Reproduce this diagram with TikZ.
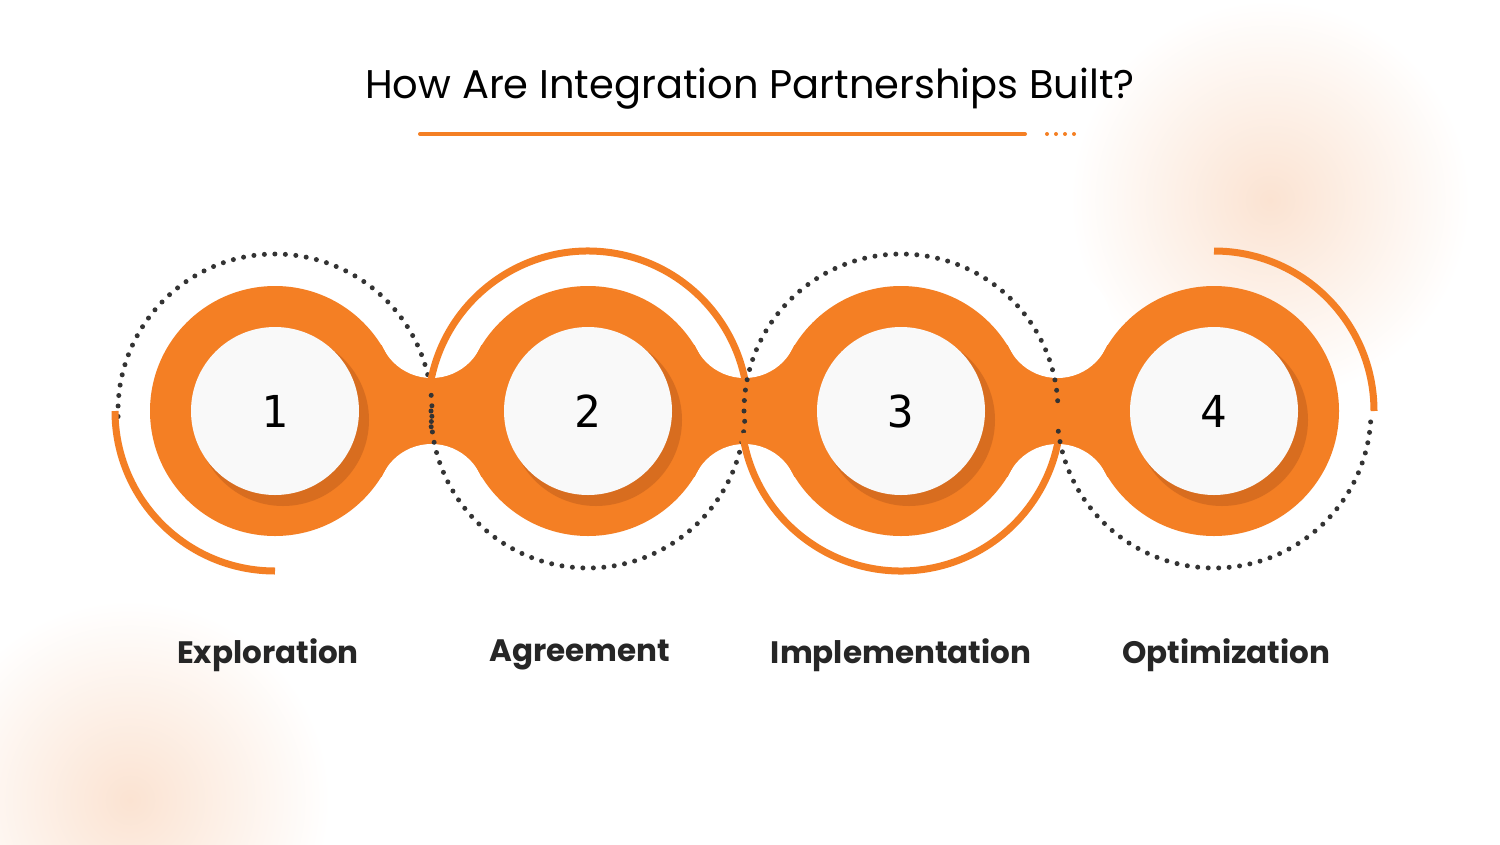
\documentclass[tikz,border=0pt]{standalone}
\usepackage{fontspec}
\setmainfont{Poppins}
\newfontfamily\monof{DejaVu Sans Mono}
\definecolor{org}{HTML}{F47F24}
\definecolor{dorg}{HTML}{B8581A}
\definecolor{peach}{HTML}{FBE3D2}
\tikzset{
  solidarc/.style={draw=org,line width=7pt},
  dotarc/.style={draw=black!80,line width=5pt,dash pattern=on 0pt off 10.5pt,line cap=round},
  numtxt/.style={font=\monof\fontsize{44}{44}\selectfont},
  lbl/.style={font=\fontsize{31}{31}\selectfont\bfseries,text=black!85},
}
\begin{document}
\begin{tikzpicture}[x=1pt,y=-1pt]
\useasboundingbox (0,0) rectangle (1500,844);
\fill[white] (0,0) rectangle (1500,844);
\begin{scope}
\clip (0,0) rectangle (1500,844);
\shade[inner color=peach,outer color=white] (1270,200) circle (200);
\shade[inner color=peach,outer color=white] (130,800) circle (200);
\end{scope}
\node[font=\fontsize{40}{40}\selectfont, text=black] (title) at (750,89) {How Are Integration Partnerships Built?};
\draw[org,line width=4pt,line cap=round] (420,134) -- (1025,134);
\draw[org,line width=4pt,dash pattern=on 0pt off 9pt,line cap=round] (1047,134) -- (1076,134);
% band
\fill[org] (275,345) rectangle (1214,477);
\foreach \x in {431.5,744.5,1057.5}{
  \fill[white] (\x,323.9) circle (54.1);
  \fill[white] (\x,498.1) circle (54.1);
}
\foreach \x/\n/\t/\lx in {275/1/Exploration/268,588/2/Agreement/580,901/3/Implementation/901,1214/4/Optimization/1226}{
  \fill[org] (\x,411) circle (125);
  \fill[dorg,opacity=0.45] (\x+8,420) circle (86);
  \fill[white!95!gray] (\x,411) circle (84);
  \node[numtxt] (n\n) at (\x,411) {\n};
  \node[lbl] (l\n) at (\lx,655) {\t};
}
% decorations (y axis flipped: negative angles go up)
\draw[dotarc] (275,411) ++(178:157) arc (178:366:157);
\draw[solidarc] (275,411) ++(180:160) arc (180:90:160);
\draw[solidarc] (588,411) ++(188:160) arc (188:360:160);
\draw[dotarc] (588,411) ++(180:157) arc (180:0:157);
\draw[dotarc] (901,411) ++(180:157) arc (180:360:157);
\draw[solidarc] (901,411) ++(172:160) arc (172:8:160);
\draw[solidarc] (1214,411) ++(270:160) arc (270:360:160);
\draw[dotarc] (1214,411) ++(4:157) arc (4:176:157);
\end{tikzpicture}
\end{document}
